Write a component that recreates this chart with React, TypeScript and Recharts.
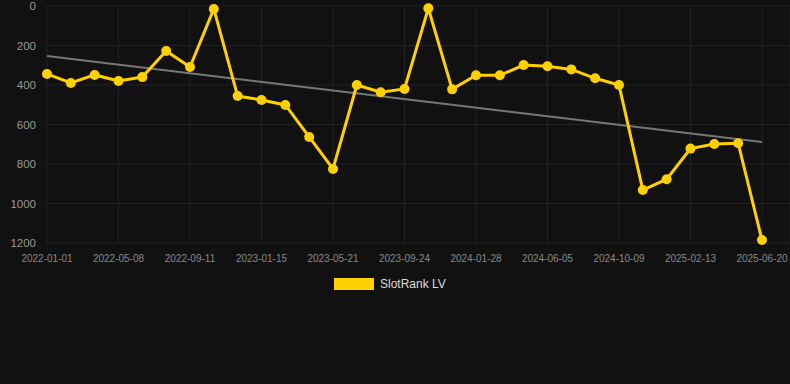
import React from "react";
import { LineChart, Line, XAxis, YAxis, CartesianGrid, ReferenceLine } from "recharts";

const dates = [
  "2022-01-01", "2022-02-12", "2022-03-26", "2022-05-08", "2022-06-19", "2022-07-31",
  "2022-09-11", "2022-10-23", "2022-12-04", "2023-01-15", "2023-02-26", "2023-04-09",
  "2023-05-21", "2023-07-02", "2023-08-13", "2023-09-24", "2023-11-05", "2023-12-17",
  "2024-01-28", "2024-03-10", "2024-04-23", "2024-06-05", "2024-07-17", "2024-08-28",
  "2024-10-09", "2024-11-20", "2025-01-01", "2025-02-13", "2025-03-28", "2025-05-09",
  "2025-06-20",
];

const rankValues = [
  344, 390, 349, 380, 360, 228, 309, 15, 456, 476, 501,
  663, 825, 400, 437, 420, 12, 422, 351, 351, 299,
  305, 321, 366, 400, 932, 877, 722, 699, 695, 1185,
];

const yTicks = [0, 200, 400, 600, 800, 1000, 1200];
const trendEnds = [253, 689];

const data = dates.map((d, i) => ({ date: d, rank: rankValues[i] }));

const FONT = "Arial, 'Liberation Sans', sans-serif";

export default function App() {
  return (
    <div
      style={{
        position: "absolute",
        left: 0,
        top: 0,
        width: 790,
        height: 384,
        background: "#111111",
        fontFamily: FONT,
      }}
    >
      <LineChart
        width={790}
        height={384}
        data={data}
        margin={{ top: 6, right: 0, left: 0, bottom: 111 }}
      >
        <CartesianGrid stroke="#222222" strokeWidth={1} />
        <XAxis
          dataKey="date"
          interval={2}
          tickLine={false}
          axisLine={false}
          tickMargin={6}
          padding={{ left: 0, right: 28 }}
          tick={{ fill: "#888888", fontSize: 10, fontFamily: FONT }}
        />
        <YAxis
          width={47}
          reversed
          domain={[0, 1200]}
          ticks={yTicks}
          tickLine={false}
          axisLine={false}
          tickMargin={5}
          tick={{ fill: "#999999", fontSize: 11.5, fontFamily: FONT }}
        />
        <ReferenceLine
          segment={[
            { x: dates[0], y: trendEnds[0] },
            { x: dates[dates.length - 1], y: trendEnds[1] },
          ]}
          stroke="#777777"
          strokeWidth={2}
          ifOverflow="visible"
        />
        <Line
          type="linear"
          dataKey="rank"
          stroke="#FFD000"
          strokeWidth={3}
          dot={{ r: 5, fill: "#FFD000", stroke: "#FFD000", strokeWidth: 0 }}
          activeDot={false}
          isAnimationActive={false}
        />
      </LineChart>
      <div
        style={{
          position: "absolute",
          left: 334,
          top: 278,
          width: 40,
          height: 12,
          background: "#FFD000",
        }}
      />
      <span
        style={{
          position: "absolute",
          left: 380,
          top: 278,
          color: "#dddddd",
          fontSize: 12,
          fontFamily: FONT,
          lineHeight: "13px",
          whiteSpace: "nowrap",
        }}
      >
        SlotRank LV
      </span>
    </div>
  );
}
